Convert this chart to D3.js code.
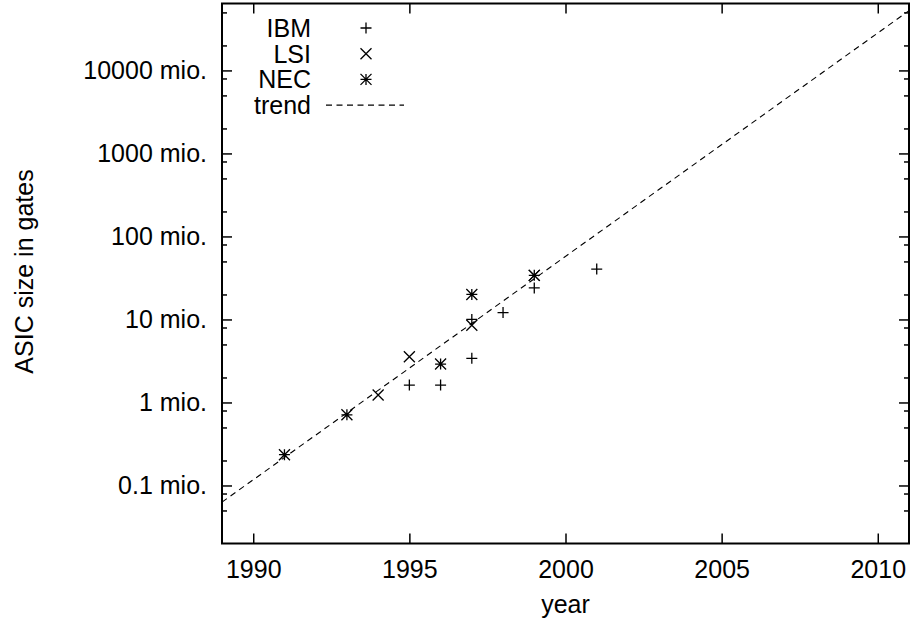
<!DOCTYPE html>
<html>
<head>
<meta charset="utf-8">
<script src="https://cdn.jsdelivr.net/npm/d3@7/dist/d3.min.js"></script>
<style>
  html, body { margin: 0; padding: 0; background: #fff; }
  svg { display: block; }
  text { font-family: "Liberation Sans", Arial, Helvetica, sans-serif; fill: #000; }
</style>
</head>
<body>
<svg id="chart" width="910" height="626"></svg>
<script>
// ---- data (values in millions of gates) ----
const ibmYears = [1995, 1996, 1997, 1997, 1998, 1999, 2001];
const ibmGates = [1.62, 1.62, 3.4, 10, 12.1, 24, 40.5];
const lsiYears = [1994, 1995, 1997, 1999];
const lsiGates = [1.23, 3.55, 8.5, 34];
const necYears = [1991, 1993, 1996, 1997, 1999];
const necGates = [0.235, 0.71, 2.9, 20, 34];
const trendYears = [1989, 2011];
const trendGates = [0.063, 52500];
const seriesNames = ["IBM", "LSI", "NEC", "trend"];
const xTickValues = [1990, 1995, 2000, 2005, 2010];
const yTickValues = [0.1, 1, 10, 100, 1000, 10000];
const yTickLabels = ["0.1 mio.", "1 mio.", "10 mio.", "100 mio.", "1000 mio.", "10000 mio."];
const yMinorTicks = [0.05, 0.08, 0.2, 0.5, 0.8, 2, 5, 8, 20, 50, 80, 200, 500, 800,
                     2000, 5000, 8000, 20000, 50000];
const xDomain = [1989, 2011];
const yDomain = [0.02, 64000];

// ---- layout ----
const L = 222, R = 909, T = 3.5, B = 543.5;
const FS = 25;
const svg = d3.select("#chart");

const x = d3.scaleLinear().domain(xDomain).range([L, R]);
const y = d3.scaleLog().domain(yDomain).range([B, T]);

function styleAxis(g) {
  g.select(".domain").remove();
  g.selectAll(".tick line").attr("stroke", "#000").attr("stroke-width", 1.5);
  g.selectAll("text").attr("font-size", FS).attr("fill", "#000")
    .attr("font-family", '"Liberation Sans", Arial, Helvetica, sans-serif');
}

// bottom axis
svg.append("g").attr("transform", `translate(0,${B})`)
  .call(d3.axisBottom(x).tickValues(xTickValues).tickFormat(d3.format("d"))
        .tickSizeInner(-10).tickSizeOuter(0).tickPadding(17))
  .call(styleAxis);
// top mirror
svg.append("g").attr("transform", `translate(0,${T})`)
  .call(d3.axisTop(x).tickValues(xTickValues).tickFormat("")
        .tickSizeInner(-10).tickSizeOuter(0))
  .call(styleAxis);

// left axis
const yLab = new Map(yTickValues.map((v, i) => [v, yTickLabels[i]]));
svg.append("g").attr("transform", `translate(${L},0)`)
  .call(d3.axisLeft(y).tickValues(yTickValues).tickFormat(d => yLab.get(d))
        .tickSizeInner(-10).tickSizeOuter(0).tickPadding(15))
  .call(styleAxis);
svg.append("g").attr("transform", `translate(${L},0)`)
  .call(d3.axisLeft(y).tickValues(yMinorTicks).tickFormat("")
        .tickSizeInner(-5).tickSizeOuter(0))
  .call(styleAxis);
// right mirror
svg.append("g").attr("transform", `translate(${R},0)`)
  .call(d3.axisRight(y).tickValues(yTickValues).tickFormat("")
        .tickSizeInner(-10).tickSizeOuter(0))
  .call(styleAxis);
svg.append("g").attr("transform", `translate(${R},0)`)
  .call(d3.axisRight(y).tickValues(yMinorTicks).tickFormat("")
        .tickSizeInner(-5).tickSizeOuter(0))
  .call(styleAxis);

// border
svg.append("rect").attr("x", L).attr("y", T).attr("width", R - L).attr("height", B - T)
  .attr("fill", "none").attr("stroke", "#000").attr("stroke-width", 2);

// axis titles
svg.append("text").attr("x", (L + R) / 2).attr("y", 613).attr("text-anchor", "middle")
  .attr("font-size", FS).text("year");
svg.append("text").attr("transform", `translate(33,${(T + B) / 2 - 2}) rotate(-90)`)
  .attr("text-anchor", "middle").attr("font-size", FS).text("ASIC size in gates");

// ---- markers ----
const S = 5.5;
const plusPath = `M${-S},0H${S}M0,${-S}V${S}`;
const crossPath = `M${-S},${-S}L${S},${S}M${-S},${S}L${S},${-S}`;
const starPath = plusPath + crossPath;
const markerPaths = [plusPath, crossPath, starPath];

const plotG = svg.append("g");
const clip = svg.append("clipPath").attr("id", "clip");
clip.append("rect").attr("x", L).attr("y", T).attr("width", R - L).attr("height", B - T);

// trend line
const line = d3.line().x(d => x(d[0])).y(d => y(d[1]));
plotG.append("path").attr("clip-path", "url(#clip)")
  .attr("d", line(trendYears.map((yr, i) => [yr, trendGates[i]])))
  .attr("fill", "none").attr("stroke", "#000").attr("stroke-width", 1.1)
  .attr("stroke-dasharray", "6,4.5");

const series = [
  [ibmYears, ibmGates],
  [lsiYears, lsiGates],
  [necYears, necGates]
];
series.forEach(([ys, vs], si) => {
  plotG.selectAll(null).data(ys.map((yr, i) => [yr, vs[i]])).enter()
    .append("path")
    .attr("transform", d => `translate(${x(d[0])},${y(d[1])})`)
    .attr("d", markerPaths[si])
    .attr("fill", "none").attr("stroke", "#000").attr("stroke-width", 1.3);
});

// ---- legend ----
const legX = 311, symX = 366, rowY0 = 28, rowDY = 25.7;
seriesNames.forEach((name, i) => {
  const cy = rowY0 + i * rowDY;
  svg.append("text").attr("x", legX).attr("y", cy + 9).attr("text-anchor", "end")
    .attr("font-size", FS).text(name);
  if (i < 3) {
    svg.append("path").attr("transform", `translate(${symX},${cy})`)
      .attr("d", markerPaths[i]).attr("fill", "none")
      .attr("stroke", "#000").attr("stroke-width", 1.3);
  } else {
    svg.append("line").attr("x1", 326).attr("x2", 404).attr("y1", cy).attr("y2", cy)
      .attr("stroke", "#000").attr("stroke-width", 1.1).attr("stroke-dasharray", "6,4.5");
  }
});
</script>
</body>
</html>
